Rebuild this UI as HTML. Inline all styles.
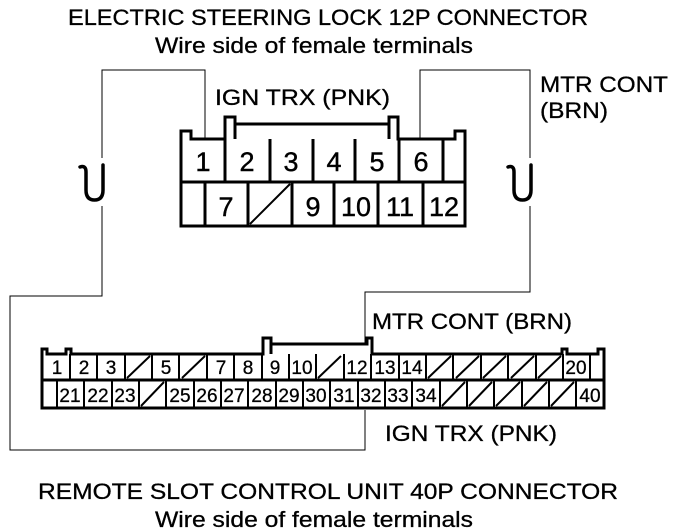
<html><body style="margin:0;background:#fff">
<svg width="688" height="532" viewBox="0 0 688 532" xmlns="http://www.w3.org/2000/svg" font-family="Liberation Sans, sans-serif">
<g fill="#000" stroke="#000" stroke-width="0.3" font-size="22" lengthAdjust="spacingAndGlyphs">
<text x="68" y="25" textLength="520" lengthAdjust="spacingAndGlyphs">ELECTRIC STEERING LOCK 12P CONNECTOR</text>
<text x="155" y="53" textLength="318" lengthAdjust="spacingAndGlyphs">Wire side of female terminals</text>
<text x="215" y="105" textLength="175" lengthAdjust="spacingAndGlyphs">IGN TRX (PNK)</text>
<text x="540" y="92" textLength="128" lengthAdjust="spacingAndGlyphs">MTR CONT</text>
<text x="540" y="118" textLength="68" lengthAdjust="spacingAndGlyphs">(BRN)</text>
<text x="372" y="329" textLength="200" lengthAdjust="spacingAndGlyphs">MTR CONT (BRN)</text>
<text x="385" y="441" textLength="172" lengthAdjust="spacingAndGlyphs">IGN TRX (PNK)</text>
<text x="38" y="499" textLength="580" lengthAdjust="spacingAndGlyphs">REMOTE SLOT CONTROL UNIT 40P CONNECTOR</text>
<text x="155" y="527" textLength="318" lengthAdjust="spacingAndGlyphs">Wire side of female terminals</text>
</g>
<g fill="none" stroke="#000" stroke-width="1">
<path d="M205 139V70H102V158M102 206V296H10V450H365V410"/>
<path d="M420 139V70H530V158M530 206V292H365V344"/>
</g>
<g fill="none" stroke="#000" stroke-width="3.5" stroke-linecap="round">
<path d="M80 167Q86 165 86 172V190Q86 200 94.5 200Q103 200 103 190V165"/>
<path d="M508 167Q514 165 514 172V190Q514 200 522.5 200Q531 200 531 190V165"/>
</g>
<g fill="none" stroke="#000" stroke-width="3">
<path d="M181 226V131H191V139H225V117H235V124H389V117H398V139H455V131H465V226Z"/>
<path d="M235 124V139M389 124V139"/>
<path d="M181 182H465"/>
<path d="M225 139V182M270 139V182M313 139V182M355 139V182M399 139V182M443 139V182"/>
<path d="M205 182V226M248 182V226M292 182V226M334 182V226M378 182V226M423 182V226"/>
<path d="M250 224L290 184" stroke-width="2"/>
</g>
<g font-size="27" text-anchor="middle" stroke="#000" stroke-width="0.4">
<text x="203" y="171">1</text><text x="247" y="171">2</text><text x="291" y="171">3</text><text x="334" y="171">4</text><text x="377" y="171">5</text><text x="421" y="171">6</text>
<text x="226" y="216">7</text><text x="313" y="216">9</text><text x="356" y="216">10</text><text x="400" y="216">11</text><text x="444" y="216">12</text>
</g>
<g fill="none" stroke="#000" stroke-width="3">
<path d="M42 408V349H47V354H66V349H71V354H263V338H271V344H367V338H372V354H562V349H567V354H598V349H604V408Z"/>
<path d="M271 344V354"/>
<path d="M42 380H604"/>
</g>
<g stroke="#000" stroke-width="2" fill="none">
<path d="M70 354V380M97 354V380M125 354V380M152 354V380M179 354V380M207 354V380M234 354V380M262 354V380M289 354V380M316 354V380M344 354V380M371 354V380M399 354V380M426 354V380M453 354V380M481 354V380M508 354V380M536 354V380M563 354V380M590 354V380"/>
<path d="M57 380V408M84 380V408M112 380V408M139 380V408M166 380V408M194 380V408M221 380V408M248 380V408M276 380V408M303 380V408M330 380V408M358 380V408M385 380V408M412 380V408M440 380V408M467 380V408M494 380V408M522 380V408M549 380V408M576 380V408"/>
<path d="M127 378L150 356M182 378L205 356M318 378L341 356M428 378L451 356M456 378L479 356M483 378L506 356M511 378L534 356M538 378L561 356"/>
<path d="M141 406L164 382M442 406L465 382M469 406L492 382M496 406L520 382M524 406L547 382M551 406L574 382"/>
</g>
<g font-size="19" text-anchor="middle" stroke="#000" stroke-width="0.3">
<text x="57" y="374">1</text><text x="84" y="374">2</text><text x="111" y="374">3</text><text x="166" y="374">5</text><text x="221" y="374">7</text><text x="248" y="374">8</text><text x="275" y="374">9</text><text x="302" y="374">10</text><text x="357" y="374">12</text><text x="385" y="374">13</text><text x="412" y="374">14</text><text x="576" y="374">20</text>
<text x="70" y="402">21</text><text x="98" y="402">22</text><text x="125" y="402">23</text><text x="180" y="402">25</text><text x="207" y="402">26</text><text x="234" y="402">27</text><text x="262" y="402">28</text><text x="289" y="402">29</text><text x="316" y="402">30</text><text x="344" y="402">31</text><text x="371" y="402">32</text><text x="398" y="402">33</text><text x="426" y="402">34</text><text x="590" y="402">40</text>
</g>
</svg>
</body></html>
